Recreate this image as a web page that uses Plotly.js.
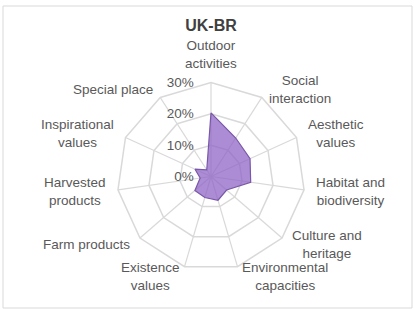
<!DOCTYPE html>
<html>
<head>
<meta charset="utf-8">
<script src="https://cdn.plot.ly/plotly-3.0.1.min.js"></script>
<style>html,body{margin:0;padding:0;background:#fff;}#chart{width:414px;height:309px;}</style>
</head>
<body>
<div id="chart"></div>
<script>
var categories = ["Outdoor<br>activities", "Social<br>interaction", "Aesthetic<br>values", "Habitat and<br>biodiversity", "Culture and<br>heritage", "Environmental<br>capacities", "Existence<br>values", "Farm products", "Harvested<br>products", "Inspirational<br>values", "Special place"];
var shares = [20.3, 14.6, 13.7, 12.8, 6.6, 7.9, 7.0, 6.8, 3.5, 5.6, 2.5];
var radialTicks = [0, 10, 20, 30];
var radialTickText = ["0%", "10%", "20%", "30%"];
var chartTitle = "UK-BR";

var W = 414, H = 309;
var CX = 211, CY = 176.5, RAD = 94;   // polar frame geometry (pixels)
var RMAX = 30;
var LABEL_GAP = 10;

var theta = categories.concat([categories[0]]);
var r = shares.concat([shares[0]]);

var trace = {
  type: "scatterpolar",
  r: r,
  theta: theta,
  mode: "lines",
  fill: "toself",
  fillcolor: "rgba(140,95,195,0.72)",
  line: {color: "#7a58a8", width: 1.2},
  hoverinfo: "skip"
};

// category labels placed just outside each outer vertex, computed from the category's angle
var annotations = categories.map(function (c, i) {
  var a = i * 2 * Math.PI / categories.length;
  var s = Math.sin(a), co = Math.cos(a);
  var px = CX + (RAD + LABEL_GAP) * s;
  var py = CY - (RAD + LABEL_GAP) * co;
  return {
    xref: "paper", yref: "paper",
    x: px / W, y: 1 - py / H,
    text: c, showarrow: false, align: "center",
    xanchor: s > 0.05 ? "left" : (s < -0.05 ? "right" : "center"),
    yanchor: co > 0.99 ? "bottom" : (co < -0.99 ? "top" : "middle"),
    font: {family: "Liberation Sans, Arial, sans-serif", size: 13.5, color: "#595959"}
  };
});

var layout = {
  width: W,
  height: H,
  margin: {l: 0, r: 0, t: 0, b: 0},
  paper_bgcolor: "#ffffff",
  showlegend: false,
  font: {family: "Liberation Sans, Arial, sans-serif", color: "#595959", size: 13.5},
  title: {
    text: "<b>" + chartTitle + "</b>",
    x: 211 / W, xanchor: "center",
    y: 1 - 25 / H, yanchor: "middle",
    font: {family: "Liberation Sans, Arial, sans-serif", size: 16, color: "#404040"}
  },
  polar: {
    domain: {x: [(CX - RAD) / W, (CX + RAD) / W], y: [(H - CY - RAD) / H, (H - CY + RAD) / H]},
    bgcolor: "rgba(0,0,0,0)",
    gridshape: "linear",
    angularaxis: {
      rotation: 90,
      direction: "clockwise",
      type: "category",
      categoryorder: "array",
      categoryarray: categories,
      showline: true,
      linecolor: "#d9d9d9",
      linewidth: 1.5,
      gridcolor: "#d9d9d9",
      gridwidth: 1.2,
      ticks: "",
      showticklabels: false,
      layer: "above traces"
    },
    radialaxis: {
      range: [0, RMAX],
      tickvals: radialTicks,
      ticktext: radialTickText,
      angle: 90,
      tickangle: 90,
      side: "counterclockwise",
      showline: false,
      ticks: "outside",
      ticklen: 12,
      tickcolor: "rgba(0,0,0,0)",
      gridcolor: "#d9d9d9",
      gridwidth: 1.5,
      layer: "above traces",
      tickfont: {size: 13.5, color: "#595959"}
    }
  },
  annotations: annotations,
  shapes: [{
    type: "rect", xref: "paper", yref: "paper",
    x0: 3 / W, x1: 412 / W, y0: 1 - 308 / H, y1: 1 - 6 / H,
    line: {color: "#d9d9d9", width: 1}, fillcolor: "rgba(0,0,0,0)"
  }]
};

Plotly.newPlot("chart", [trace], layout, {displayModeBar: false, staticPlot: true});
</script>
</body>
</html>
